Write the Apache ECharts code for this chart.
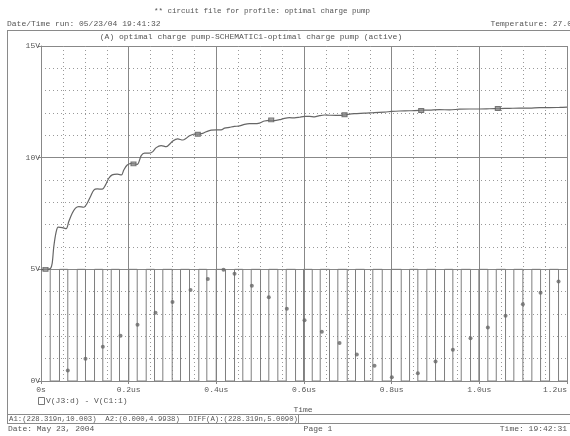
<!DOCTYPE html>
<html>
<head>
<meta charset="utf-8">
<script src="https://cdn.jsdelivr.net/npm/echarts@6/dist/echarts.min.js"></script>
<style>
html,body{margin:0;padding:0;background:#fff;}
#chart{width:570px;height:436px;}
</style>
</head>
<body>
<div id="chart"></div>
<script>
// ---- data (time in us, voltage in V) ----
const xTicks = [0, 0.2, 0.4, 0.6, 0.8, 1.0, 1.2];
const xTickLabels = ['0s', '0.2us', '0.4us', '0.6us', '0.8us', '1.0us', '1.2us'];
const yTickLabels = ['0V', '5V', '10V', '15V'];

// upper trace (charging output)
const outTime = [0, 0.0103, 0.0217, 0.0256, 0.0292, 0.0347, 0.0392, 0.0484, 0.0575, 0.0634, 0.0712, 0.0787, 0.0862, 0.0976, 0.1054, 0.1129, 0.1205, 0.1282, 0.1396, 0.1472, 0.1547, 0.1624, 0.1739, 0.1837, 0.1889, 0.1967, 0.2081, 0.2195, 0.2286, 0.2361, 0.2475, 0.2551, 0.2628, 0.2742, 0.2856, 0.2932, 0.3007, 0.3121, 0.3235, 0.3313, 0.3388, 0.3502, 0.3616, 0.3692, 0.3769, 0.3883, 0.3997, 0.4111, 0.4187, 0.4301, 0.4415, 0.4529, 0.4643, 0.4757, 0.4871, 0.4985, 0.5099, 0.5213, 0.5327, 0.5441, 0.5555, 0.5669, 0.5783, 0.5897, 0.6011, 0.6125, 0.6239, 0.6354, 0.6468, 0.6582, 0.6810, 0.6924, 0.7152, 0.7380, 0.7608, 0.7837, 0.7997, 0.8179, 0.8407, 0.8636, 0.8864, 0.9092, 0.9320, 0.9548, 0.9776, 1.0005, 1.0233, 1.0461, 1.0689, 1.0917, 1.1145, 1.1373, 1.1601, 1.1829, 1.2];
const outVolt = [4.99, 5.00, 5.04, 5.28, 6.02, 6.69, 6.89, 6.87, 6.82, 7.14, 7.51, 7.74, 7.81, 7.78, 7.96, 8.26, 8.55, 8.60, 8.59, 8.78, 9.08, 9.23, 9.26, 9.23, 9.45, 9.67, 9.74, 9.70, 10.09, 10.20, 10.20, 10.27, 10.45, 10.54, 10.49, 10.60, 10.75, 10.84, 10.79, 10.87, 10.98, 11.06, 11.05, 11.09, 11.16, 11.23, 11.24, 11.24, 11.32, 11.36, 11.40, 11.42, 11.49, 11.52, 11.52, 11.55, 11.64, 11.67, 11.66, 11.70, 11.76, 11.79, 11.78, 11.81, 11.85, 11.85, 11.83, 11.88, 11.91, 11.90, 11.89, 11.92, 11.97, 11.99, 12.02, 12.04, 12.07, 12.09, 12.10, 12.12, 12.13, 12.15, 12.14, 12.17, 12.18, 12.18, 12.19, 12.20, 12.21, 12.22, 12.22, 12.24, 12.24, 12.25, 12.26];

// markers drawn on the upper trace
const outMarkTime = [0.0103, 0.2110, 0.3577, 0.5252, 0.6925, 0.8674, 1.0422];
const outMarkVolt = [5.00, 9.72, 11.05, 11.69, 11.92, 12.11, 12.20];

// lower trace: switching waveform, time of each edge and level after it
const waveEdgeTime = [0.0210, 0.0422, 0.0611, 0.0826, 0.1015, 0.1221, 0.1410, 0.1602, 0.1791, 0.2003, 0.2195, 0.2400, 0.2590, 0.2779, 0.2993, 0.3183, 0.3388, 0.3600, 0.3783, 0.3997, 0.4209, 0.4415, 0.4604, 0.4796, 0.5008, 0.5197, 0.5403, 0.5594, 0.5807, 0.5989, 0.6188, 0.6370, 0.6582, 0.6772, 0.6986, 0.7175, 0.7381, 0.7570, 0.7785, 0.7990, 0.8218, 0.8408, 0.8597, 0.8802, 0.9001, 0.9206, 0.9396, 0.9587, 0.9799, 0.9989, 1.0194, 1.0386, 1.0598, 1.0787, 1.0993, 1.1198, 1.1397, 1.1602, 1.1807];
const waveEdgeLevel = [0, 5, 0, 5, 0, 5, 0, 5, 0, 5, 0, 5, 0, 5, 0, 5, 0, 5, 0, 5, 0, 5, 0, 5, 0, 5, 0, 5, 0, 5, 0, 5, 0, 5, 0, 5, 0, 5, 0, 5, 0, 5, 0, 5, 0, 5, 0, 5, 0, 5, 0, 5, 0, 5, 0, 5, 0, 5, 0];
const waveStartLevel = 5;

// markers drawn on the lower trace
const waveMarkTime = [0.0611, 0.1015, 0.1410, 0.1814, 0.2202, 0.2612, 0.3000, 0.3411, 0.3806, 0.4164, 0.4415, 0.4810, 0.5197, 0.5608, 0.6012, 0.6407, 0.6811, 0.7205, 0.7609, 0.8004, 0.8597, 0.9001, 0.9396, 0.9799, 1.0194, 1.0598, 1.0993, 1.1397, 1.1807];
const waveMarkVolt = [0.47, 1.00, 1.53, 2.03, 2.52, 3.06, 3.54, 4.08, 4.57, 4.98, 4.80, 4.27, 3.75, 3.23, 2.72, 2.21, 1.70, 1.19, 0.68, 0.17, 0.35, 0.87, 1.40, 1.91, 2.40, 2.92, 3.44, 3.95, 4.45];

// ---- build option ----
const FONT = '"Liberation Mono", "DejaVu Sans Mono", monospace';
const TXT = '#555555';
const GRID = '#888888';
const MINOR = '#999999';

const outData = outTime.map((t, i) => [t, outVolt[i]]);
const outMarks = outMarkTime.map((t, i) => [t, outMarkVolt[i]]);
const waveData = [[0, waveStartLevel]].concat(waveEdgeTime.map((t, i) => [t, waveEdgeLevel[i]]));
waveData.push([xTicks[xTicks.length - 1], waveEdgeLevel[waveEdgeLevel.length - 1]]);
const waveMarks = waveMarkTime.map((t, i) => [t, waveMarkVolt[i]]);

function txt(x, y, s, align, size) {
  return { type: 'text', x: x, y: y, silent: true,
    style: { text: s, x: 0, y: 0, fill: TXT, font: (size || 8) + 'px ' + FONT, align: align || 'left', verticalAlign: 'middle' } };
}
function hline(x1, x2, y) {
  return { type: 'line', silent: true, shape: { x1: x1, y1: y, x2: x2, y2: y }, style: { stroke: '#8a8a8a', lineWidth: 1 } };
}
function vline(x, y1, y2) {
  return { type: 'line', silent: true, shape: { x1: x, y1: y1, x2: x, y2: y2 }, style: { stroke: '#8a8a8a', lineWidth: 1 } };
}

const chart = echarts.init(document.getElementById('chart'), null, { renderer: 'canvas' });
chart.setOption({
  animation: false,
  backgroundColor: '#ffffff',
  grid: { left: 41, right: 3, top: 46, bottom: 55, containLabel: false, outerBoundsMode: 'none' },
  xAxis: {
    type: 'value', min: xTicks[0], max: xTicks[xTicks.length - 1], interval: 0.2,
    axisLine: { show: true, onZero: false, lineStyle: { color: GRID, width: 1 } },
    axisTick: { show: true, inside: false, length: 3, lineStyle: { color: GRID } },
    axisLabel: {
      color: TXT, fontFamily: FONT, fontSize: 8, margin: 5, alignMaxLabel: 'right',
      formatter: function (v) { const i = xTicks.findIndex(t => Math.abs(t - v) < 1e-6); return i >= 0 ? xTickLabels[i] : ''; }
    },
    splitLine: { show: true, lineStyle: { color: GRID, width: 1, type: 'solid' } },
    minorTick: { show: false, splitNumber: 4 },
    minorSplitLine: { show: true, lineStyle: { color: MINOR, width: 1, type: [1, 3] } }
  },
  yAxis: {
    type: 'value', min: 0, max: 15, interval: 5,
    axisLine: { show: true, lineStyle: { color: GRID, width: 1 } },
    axisTick: { show: true, inside: false, length: 3, lineStyle: { color: GRID } },
    axisLabel: {
      color: TXT, fontFamily: FONT, fontSize: 8, margin: 1,
      formatter: function (v) { return yTickLabels[Math.round(v / 5)]; }
    },
    splitLine: { show: true, lineStyle: { color: GRID, width: 1, type: 'solid' } },
    minorTick: { show: false, splitNumber: 5 },
    minorSplitLine: { show: true, lineStyle: { color: MINOR, width: 1, type: [1, 3] } }
  },
  series: [
    { type: 'line', data: waveData, step: 'end', showSymbol: false, symbol: 'none',
      lineStyle: { color: '#7e7e7e', width: 1 }, z: 3, silent: true },
    { type: 'line', data: outData, showSymbol: false, symbol: 'none', smooth: 0.3,
      lineStyle: { color: '#666666', width: 1.2 }, z: 4, silent: true },
    { type: 'scatter', data: outMarks, symbol: 'rect', symbolSize: [5, 4],
      itemStyle: { color: '#8a8a8a', borderColor: '#5e5e5e', borderWidth: 1 }, z: 5, silent: true },
    { type: 'scatter', data: waveMarks, symbol: 'circle', symbolSize: 4,
      itemStyle: { color: '#666666' }, z: 5, silent: true }
  ],
  graphic: [
    txt(262, 11, '** circuit file for profile: optimal charge pump', 'center', 7.5),
    txt(7, 24, 'Date/Time run: 05/23/04 19:41:32', 'left'),
    txt(572, 24, 'Temperature: 27.0', 'right'),
    hline(7, 570, 30.5),
    vline(7.5, 30, 423),
    txt(251, 37, '(A) optimal charge pump-SCHEMATIC1-optimal charge pump (active)', 'center'),
    { type: 'rect', silent: true, shape: { x: 38.5, y: 397.5, width: 6, height: 7 }, style: { fill: 'none', stroke: '#777', lineWidth: 1 } },
    txt(46, 401, 'V(J3:d) - V(C1:1)', 'left'),
    txt(303, 410, 'Time', 'center'),
    hline(7, 570, 414.5),
    txt(9, 419, 'A1:(228.319n,10.003)  A2:(0.000,4.9938)  DIFF(A):(228.319n,5.0090)', 'left', 7.3),
    vline(298.5, 414, 423),
    hline(7, 570, 423.5),
    txt(8, 428.5, 'Date: May 23, 2004', 'left'),
    txt(318, 428.5, 'Page 1', 'center'),
    txt(567, 428.5, 'Time: 19:42:31', 'right')
  ]
});
</script>
</body>
</html>
